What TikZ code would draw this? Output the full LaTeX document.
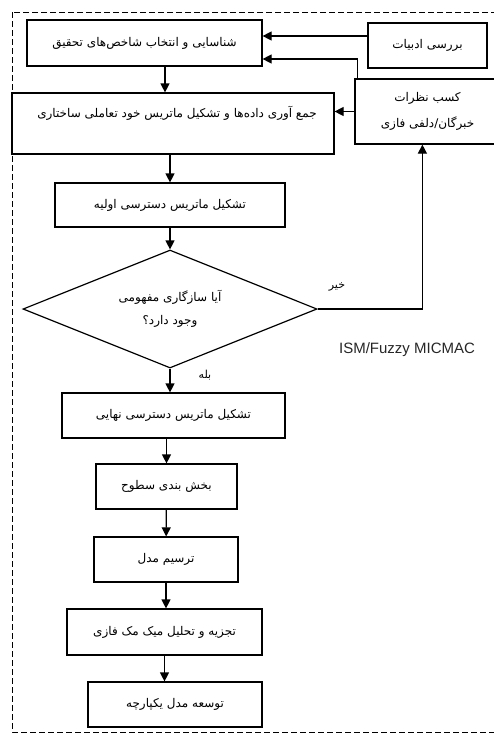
\documentclass[tikz,border=0pt]{standalone}
\usepackage{fontspec}
\usepackage{tikz}
\usetikzlibrary{shapes.geometric,arrows.meta,positioning,calc}
\TeXXeTstate=1
\newfontfamily\farsi[Script=Arabic]{DejaVu Sans}
\newfontfamily\latinsf{Liberation Sans}
\newcommand{\rl}[1]{\beginR #1\endR}

\begin{document}
\begin{tikzpicture}[x=1pt, y=-1pt,
  box/.style={draw, line width=1.2pt, inner sep=2pt, align=center,
    font=\farsi\fontsize{12}{24}\selectfont},
  lbl/.style={font=\farsi\fontsize{11}{13}\selectfont},
  arr/.style={line width=1.2pt, -{Triangle[width=9pt,length=9pt]}}]
  \useasboundingbox (0,0) rectangle (494,734);
  \clip (0,0) rectangle (494,734);
  \draw[line width=0.8pt, dash pattern=on 6pt off 3pt] (12,12) rectangle (520,732);
  % main column
  \node[box, minimum width=235pt, minimum height=46pt] (ident) at (144.5,43) {\rl{شناسایی و انتخاب شاخص‌های تحقیق}};
  \node[box, minimum width=322pt, minimum height=61pt] (ssim) at (173,123.5) {};
  \node[font=\farsi\fontsize{12}{14}\selectfont] (ssimtxt) at (177,113) {\rl{جمع آوری داده‌ها و تشکیل ماتریس خود تعاملی ساختاری}};
  \node[box, minimum width=230pt, minimum height=44pt] (irm) at (170,205) {\rl{تشکیل ماتریس دسترسی اولیه}};
  \node[box, diamond, aspect=2.5, inner sep=0pt, minimum width=294pt, minimum height=118pt,
    font=\farsi\fontsize{12}{23}\selectfont] (check) at (170,309) {\rl{آیا سازگاری مفهومی}\\\rl{وجود دارد؟}};
  \node[box, minimum width=223pt, minimum height=45pt] (frm) at (173.5,415.5) {\rl{تشکیل ماتریس دسترسی نهایی}};
  \node[box, minimum width=141pt, minimum height=45pt] (level) at (166.5,486.5) {\rl{بخش بندی سطوح}};
  \node[box, minimum width=144pt, minimum height=45pt] (draw) at (166,559.5) {\rl{ترسیم مدل}};
  \node[box, minimum width=195pt, minimum height=46pt] (micmac) at (164.5,632) {\rl{تجزیه و تحلیل میک مک فازی}};
  \node[box, minimum width=174pt, minimum height=45pt] (model) at (175,704.5) {\rl{توسعه مدل یکپارچه}};
  % side boxes
  \node[box, minimum width=119pt, minimum height=45pt] (lit) at (427.5,45.5) {\rl{بررسی ادبیات}};
  \node[box, minimum width=145pt, minimum height=65pt, font=\farsi\fontsize{12}{26}\selectfont] (expert) at (427.5,111.5) {\rl{کسب نظرات}\\\rl{خبرگان/دلفی فازی}};
  \node[font=\latinsf\fontsize{15}{17}\selectfont, text=black!85] (tool) at (407,350) {ISM/Fuzzy MICMAC};
  % connectors
  \coordinate (in1) at ($(ident.east)+(0,-7)$);
  \coordinate (in2) at ($(ident.east)+(0,16)$);
  \draw[arr] (lit.west |- in1) -- (in1);
  \draw[arr] ([xshift=3pt]expert.north west) |- (in2);
  \draw[arr] (expert.west) -- (expert.west -| ssim.east);
  \draw[arr] (ident.south -| 165,0) -- (ssim.north -| 165,0);
  \draw[arr] (ssim.south -| irm.north) -- (irm.north);
  \draw[arr] (irm) -- (check);
  \draw[arr] (check.east) -| ($(expert.south west)+(68,0)$);
  \draw[arr] (check.south) -- (check.south |- frm.north);
  \draw[arr] (frm.south -| level.north) -- (level.north);
  \draw[arr] (level) -- (draw);
  \draw[arr] (draw.south) -- (draw.south |- micmac.north);
  \draw[arr] (micmac.south) -- (micmac.south |- model.north);
  \node[lbl] (no) at (337,287) {\rl{خیر}};
  \node[lbl] (yes) at (205,375) {\rl{بله}};
\end{tikzpicture}
\end{document}
